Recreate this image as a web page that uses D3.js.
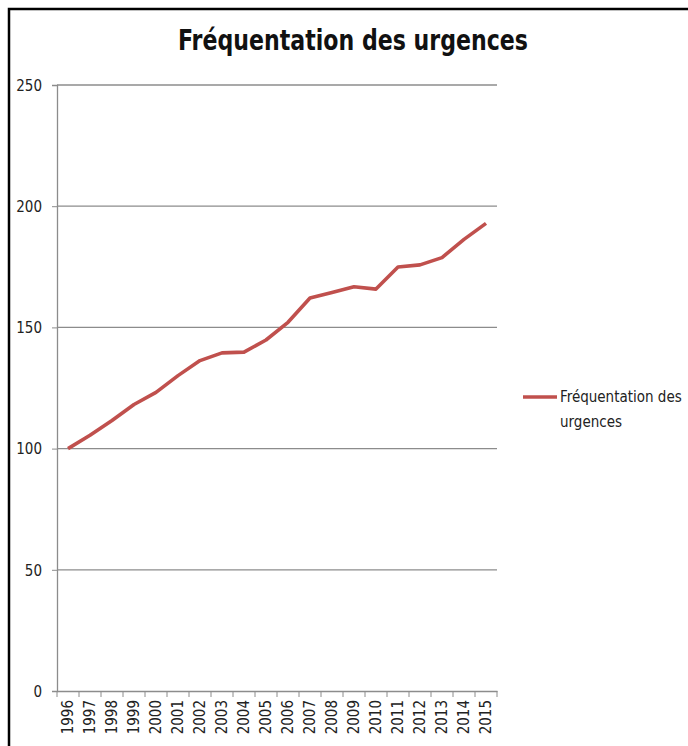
<!DOCTYPE html>
<html>
<head>
<meta charset="utf-8">
<script src="https://cdn.jsdelivr.net/npm/d3@7"></script>
<style>
  body { margin: 0; background: #fff; }
  svg { display: block; }
</style>
</head>
<body>
<div id="chart"></div>
<script>
var years = ['1996', '1997', '1998', '1999', '2000', '2001', '2002', '2003', '2004', '2005',
             '2006', '2007', '2008', '2009', '2010', '2011', '2012', '2013', '2014', '2015'];
var values = [100, 105.5, 111.6, 118.2, 123.2, 130.1, 136.3, 139.5, 139.8, 144.8,
              152.1, 162.1, 164.4, 166.8, 165.8, 174.9, 175.8, 178.8, 186.3, 192.9];
var yTicks = [0, 50, 100, 150, 200, 250];
var seriesName = 'Fréquentation des urgences';

var width = 688, height = 746;
var font = "'DejaVu Sans Condensed', 'Liberation Sans', sans-serif";

var svg_ = d3.select('#chart')
  .append('svg')
    .attr('width', width)
    .attr('height', height);

// frame of the screenshot
svg_.append('path')
  .attr('d', 'M9,' + height + 'V9H' + width)
  .attr('fill', 'none')
  .attr('stroke', '#000')
  .attr('stroke-width', 2.5);

var x_ = d3.scaleBand()
  .domain(years)
  .range([57, 497]);

var y_ = d3.scaleLinear()
  .domain([0, 250])
  .range([691, 85]);

// gridlines
svg_.append('g')
  .selectAll('line')
  .data(yTicks.slice(1))
  .enter()
  .append('line')
    .attr('x1', 57)
    .attr('x2', 497)
    .attr('y1', function(d) { return y_(d); })
    .attr('y2', function(d) { return y_(d); })
    .attr('stroke', '#8c8c8c')
    .attr('stroke-width', 1.3);

var yAxis = svg_.append('g')
  .attr('transform', 'translate(57,0)')
  .call(d3.axisLeft(y_).tickValues(yTicks).tickSize(5).tickPadding(10));

var xAxis = svg_.append('g')
  .attr('transform', 'translate(0,691)')
  .call(d3.axisBottom(x_).tickSize(0).tickPadding(0));

// ticks between categories
xAxis.selectAll('.sep')
  .data(d3.range(years.length + 1))
  .enter()
  .append('line')
    .attr('class', 'sep')
    .attr('x1', function(i) { return 57 + i * x_.step(); })
    .attr('x2', function(i) { return 57 + i * x_.step(); })
    .attr('y1', 0)
    .attr('y2', 6)
    .attr('stroke', '#8c8c8c');

[yAxis, xAxis].forEach(function(a) {
  a.select('.domain').attr('stroke', '#8c8c8c').attr('stroke-width', 1.3);
  a.selectAll('.tick line').attr('stroke', '#8c8c8c');
  a.selectAll('text')
    .attr('fill', '#222')
    .style('font-family', font)
    .style('font-size', '15px');
});

yAxis.selectAll('text').attr('dy', '0.35em');

xAxis.selectAll('.tick text')
  .attr('transform', 'rotate(-90)')
  .attr('text-anchor', 'end')
  .attr('x', -9)
  .attr('y', 0)
  .attr('dy', '0.35em');

// series line
var line = d3.line()
  .x(function(d, i) { return x_(years[i]) + x_.bandwidth() / 2; })
  .y(function(d) { return y_(d); });

svg_.append('path')
  .datum(values)
  .attr('d', line)
  .attr('fill', 'none')
  .attr('stroke', '#c0504d')
  .attr('stroke-width', 3.6)
  .attr('stroke-linejoin', 'round');

// title
svg_.append('text')
  .attr('x', 353)
  .attr('y', 50)
  .attr('text-anchor', 'middle')
  .attr('textLength', 350)
  .attr('lengthAdjust', 'spacingAndGlyphs')
  .style('font-family', font)
  .style('font-size', '29px')
  .style('font-weight', 'bold')
  .attr('fill', '#111')
  .text(seriesName);

// legend
var legend = svg_.append('g');
legend.append('line')
  .attr('x1', 523).attr('x2', 557)
  .attr('y1', 397).attr('y2', 397)
  .attr('stroke', '#c0504d')
  .attr('stroke-width', 3.6);

legend.append('text')
  .attr('x', 560)
  .attr('y', 402)
  .style('font-family', font)
  .style('font-size', '15px')
  .attr('fill', '#222')
  .text('Fréquentation des');

legend.append('text')
  .attr('x', 560)
  .attr('y', 427)
  .style('font-family', font)
  .style('font-size', '15px')
  .attr('fill', '#222')
  .text('urgences');
</script>
</body>
</html>
